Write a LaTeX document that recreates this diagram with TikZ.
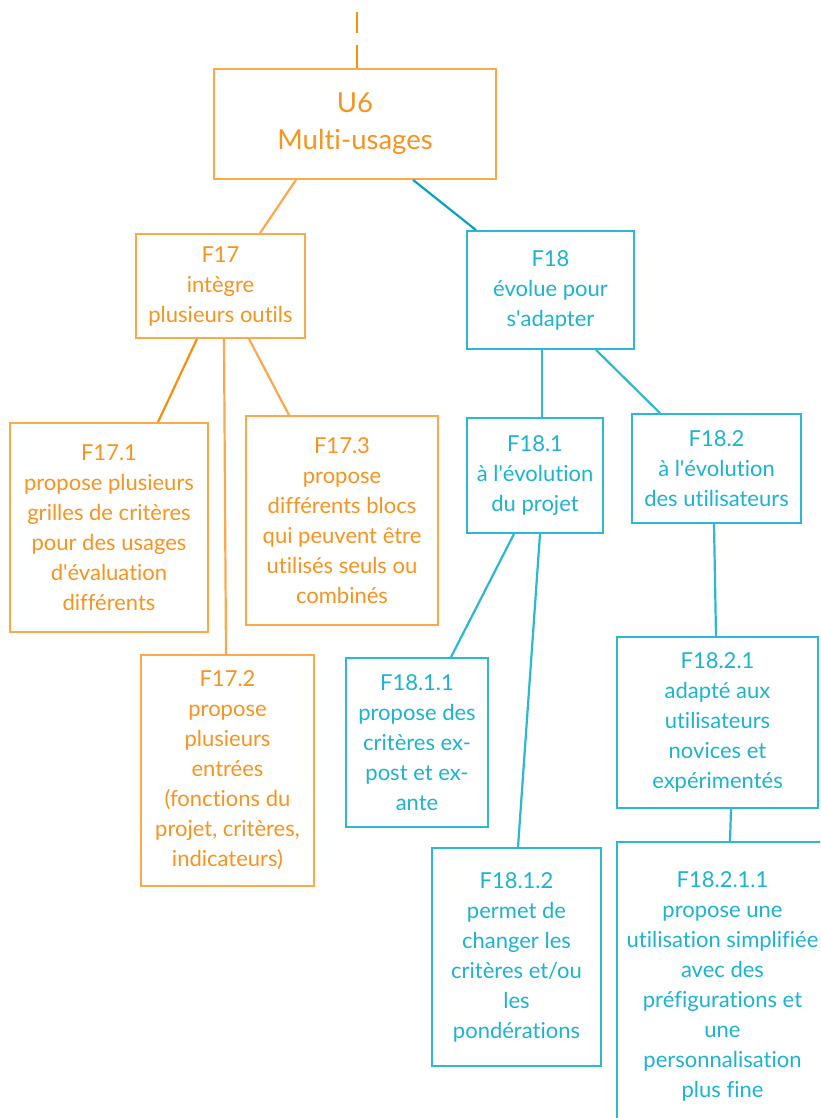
\documentclass[tikz,border=0pt]{standalone}
\usepackage{fontspec}
\setmainfont{Lato}[Ligatures={NoCommon}]
\newcommand{\q}{\textquotesingle}
\definecolor{orangetext}{HTML}{F7931E}
\definecolor{orangebox}{HTML}{FBA94A}
\definecolor{orangedark}{HTML}{F7900F}
\definecolor{tealtext}{HTML}{1DB3CF}
\definecolor{tealbox}{HTML}{2BB8D3}
\definecolor{tealdark}{HTML}{0AA2BF}
\begin{document}
\begin{tikzpicture}[x=1pt,y=-1pt,
   box/.style={draw,line width=1.8pt,rectangle,align=center,inner sep=2pt,
     font=\fontsize{22}{30}\selectfont},
   obox/.style={box,draw=orangebox,text=orangetext},
   tbox/.style={box,draw=tealbox,text=tealtext},
   oline/.style={draw=orangebox,line width=2.2pt},
   tline/.style={draw=tealbox,line width=2.2pt}]
   \clip (0,0) rectangle (820,1118);
   \node (0) [obox,minimum width=282,minimum height=110,
     font=\fontsize{27.5}{37}\selectfont] at (355,124) {U6\\Multi-usages};
   \node (1) [obox,minimum width=169,minimum height=104] at (220.5,286)
     {F17\\intègre\\plusieurs outils};
   \node (2) [tbox,minimum width=167,minimum height=118] at (550.5,290)
     {F18\\évolue pour\\s\q adapter};
   \node (3) [obox,minimum width=198,minimum height=209] at (109,527.5)
     {F17.1\\propose plusieurs\\grilles de critères\\pour des usages\\d\q évaluation\\différents};
   \node (4) [obox,minimum width=173,minimum height=231] at (227.5,770.5)
     {F17.2\\propose\\plusieurs\\entrées\\(fonctions du\\projet, critères,\\indicateurs)};
   \node (5) [obox,minimum width=192,minimum height=209] at (342,520.5)
     {F17.3\\propose\\différents blocs\\qui peuvent être\\utilisés seuls ou\\combinés};
   \node (6) [tbox,minimum width=136,minimum height=115] at (535,475.5)
     {F18.1\\à l\q évolution\\du projet};
   \node (7) [tbox,minimum width=169,minimum height=109] at (716.5,468.5)
     {F18.2\\à l\q évolution\\des utilisateurs};
   \node (8) [tbox,minimum width=142,minimum height=169] at (417,742.5)
     {F18.1.1\\propose des\\critères ex-\\post et ex-\\ante};
   \node (9) [tbox,minimum width=169,minimum height=218] at (516.5,957)
     {F18.1.2\\permet de\\changer les\\critères et/ou\\les\\pondérations};
   \node (10) [tbox,minimum width=201,minimum height=171] at (717.5,722.5)
     {F18.2.1\\adapté aux\\utilisateurs\\novices et\\expérimentés};
   \node (11) [tbox,minimum width=211,minimum height=288] at (722.5,986)
     {F18.2.1.1\\propose une\\utilisation simplifiée\\avec des\\préfigurations et\\une\\personnalisation\\plus fine};
   \coordinate (top) at (357,12);
   \draw [oline,draw=orangedark,dash pattern=on 21pt off 12pt on 23pt] (top) -- ([xshift=2]0.north);
   \draw [oline] ([xshift=-59]0.south) -- ([xshift=39.5]1.north);
   \draw [tline,draw=tealdark] ([xshift=58]0.south) -- ([xshift=-74.5]2.north);
   \draw [oline,draw=orangedark] ([xshift=-23.5]1.south) -- ([xshift=49]3.north);
   \draw [oline] ([xshift=3.5]1.south) -- ([xshift=-1.5]4.north);
   \draw [oline] ([xshift=28.5]1.south) -- ([xshift=-53]5.north);
   \draw [tline] ([xshift=-8.5]2.south) -- ([xshift=7]6.north);
   \draw [tline] ([xshift=45.5]2.south) -- ([xshift=-56.5]7.north);
   \draw [tline] ([xshift=-21]6.south) -- ([xshift=34]8.north);
   \draw [tline] ([xshift=5]6.south) -- ([xshift=1.5]9.north);
   \draw [tline] ([xshift=-2.5]7.south) -- ([xshift=-1.5]10.north);
   \draw [tline] ([xshift=13.5]10.south) -- ([xshift=7.5]11.north);
  \end{tikzpicture}
\end{document}
